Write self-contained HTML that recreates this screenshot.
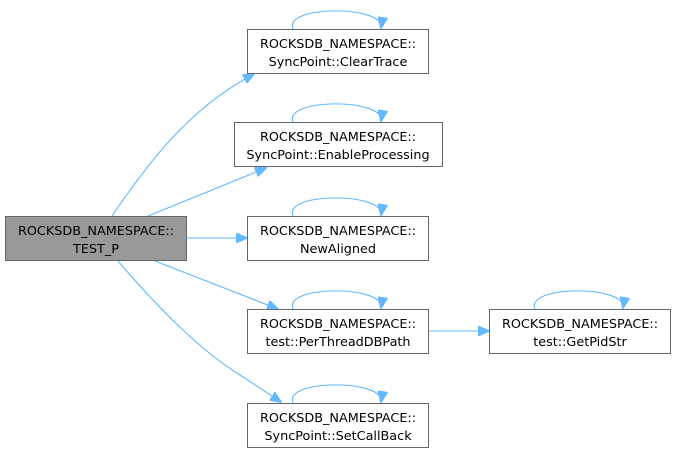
<!DOCTYPE html>
<html><head><style>html,body{margin:0;padding:0;background:#fff}svg{display:block}</style></head><body>
<svg width="677" height="453" viewBox="0 0 677 453" xmlns="http://www.w3.org/2000/svg" font-family="DejaVu Sans, Liberation Sans, sans-serif" font-size="12.8">
<defs>
<marker id="a" markerWidth="12" markerHeight="10" refX="11" refY="5" orient="auto" markerUnits="userSpaceOnUse">
<path d="M0,0 L12,5 L0,10 Z" fill="#63b8ff" stroke="#63b8ff"/>
</marker>
</defs>
<g fill="none" stroke="#63b8ff" stroke-width="1.1">
<path d="M112,216 C150,160 190,108 254,74" marker-end="url(#a)"/>
<path d="M148,216 L266,168" marker-end="url(#a)"/>
<path d="M186,238 L247,238" marker-end="url(#a)"/>
<path d="M155,261 L278,309" marker-end="url(#a)"/>
<path d="M118,261 C160,310 200,350 240,375 L281,402" marker-end="url(#a)"/>
<path d="M429,331 L489,331" marker-end="url(#a)"/>
<path d="M293,29 C283,5 385,5 381,28" marker-end="url(#a)"/>
<path d="M293,122 C283,98 385,98 381,121" marker-end="url(#a)"/>
<path d="M293,216 C283,192 385,192 381,215" marker-end="url(#a)"/>
<path d="M293,309 C283,285 385,285 381,308" marker-end="url(#a)"/>
<path d="M293,403 C283,379 385,379 381,402" marker-end="url(#a)"/>
<path d="M535,309 C525,285 627,285 623,308" marker-end="url(#a)"/>
</g>
<g stroke="#666" stroke-width="1">
<rect x="5.5" y="216.5" width="181" height="44" fill="#999"/>
<rect x="247.5" y="29.5" width="181" height="44" fill="#fff"/>
<rect x="234.5" y="122.5" width="208" height="44" fill="#fff"/>
<rect x="247.5" y="216.5" width="181" height="44" fill="#fff"/>
<rect x="247.5" y="309.5" width="181" height="44" fill="#fff"/>
<rect x="247.5" y="403.5" width="181" height="44" fill="#fff"/>
<rect x="489.5" y="309.5" width="181" height="44" fill="#fff"/>
</g>
<g fill="#000" text-anchor="middle">
<text x="96" y="235">ROCKSDB_NAMESPACE::</text><text x="96" y="253">TEST_P</text>
<text x="338" y="48">ROCKSDB_NAMESPACE::</text><text x="338" y="66">SyncPoint::ClearTrace</text>
<text x="338" y="141">ROCKSDB_NAMESPACE::</text><text x="338" y="159">SyncPoint::EnableProcessing</text>
<text x="338" y="235">ROCKSDB_NAMESPACE::</text><text x="338" y="253">NewAligned</text>
<text x="338" y="328">ROCKSDB_NAMESPACE::</text><text x="338" y="346">test::PerThreadDBPath</text>
<text x="338" y="422">ROCKSDB_NAMESPACE::</text><text x="338" y="440">SyncPoint::SetCallBack</text>
<text x="580" y="328">ROCKSDB_NAMESPACE::</text><text x="580" y="346">test::GetPidStr</text>
</g>
</svg>
</body></html>
